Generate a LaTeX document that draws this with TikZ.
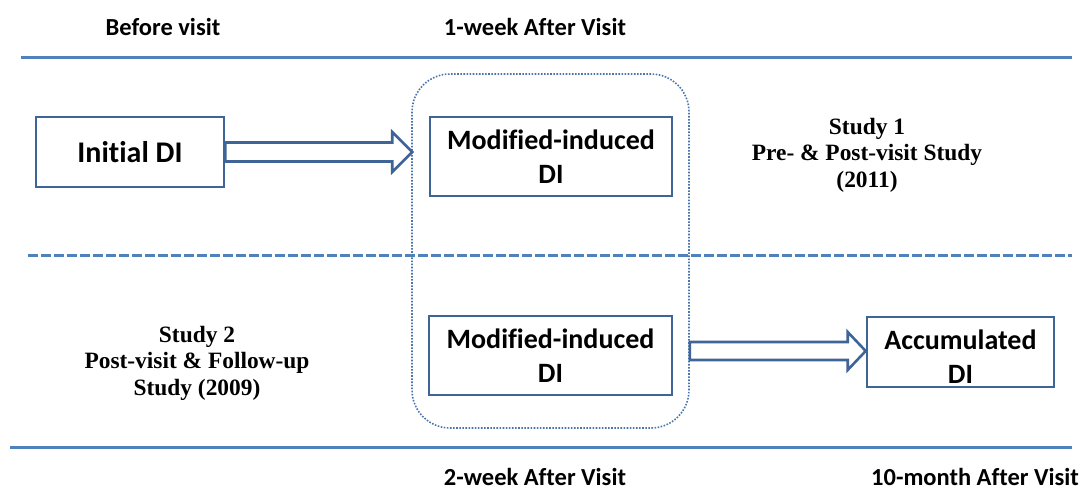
\documentclass[tikz,border=0pt]{standalone}
\usepackage{fontspec}
\setmainfont{Liberation Serif}
\newfontfamily\calfont[Ligatures=NoCommon]{Carlito}
\usetikzlibrary{calc}
\definecolor{lineblue}{RGB}{79,129,189}
\definecolor{boxblue}{RGB}{62,100,152}
\definecolor{dotblue}{RGB}{74,116,172}
\tikzset{
  hline/.style={draw=lineblue,line width=3pt},
  dline/.style={draw=lineblue,line width=3pt,dash pattern=on 10pt off 3pt},
  dibox/.style={draw=boxblue,line width=2.6pt,fill=white,align=center,inner sep=0pt,
    font=\calfont\bfseries\fontsize{28}{34}\selectfont},
  grpbox/.style={draw=dotblue,line width=1.6pt,dash pattern=on 1.6pt off 1.5pt,rounded corners=38pt,inner sep=0pt},
  blockarrow/.style={draw=boxblue,line width=2.6pt,fill=white,line join=miter},
  toplabel/.style={font=\calfont\bfseries\fontsize{24.5}{29}\selectfont,inner sep=0pt},
  studytxt/.style={font=\bfseries\fontsize{23.4}{26.5}\selectfont,align=center,inner sep=0pt}
}
\begin{document}
\begin{tikzpicture}[x=1pt,y=-1pt]
\useasboundingbox (0,0) rectangle (1087,493);
% horizontal rules
\coordinate (t1) at (21,57); \coordinate (t2) at (1072,57);
\coordinate (m1) at (28,255); \coordinate (m2) at (1072,255);
\coordinate (b1) at (10,447); \coordinate (b2) at (1072,447);
\draw[hline] (t1) -- (t2);
\draw[hline] (b1) -- (b2);
% group box
\node[grpbox,minimum width=277pt,minimum height=354pt] (grp) at (550.5,251) {};
\draw[dline] (m1) -- (m2);
% labels
\node[toplabel] (lb1) at (163,27) {Before visit};
\node[toplabel] (lb2) at (535,27) {1-week After Visit};
\node[toplabel] (lb3) at (535,477) {2-week After Visit};
\node[toplabel] (lb4) at (975,477) {10-month After Visit};
% boxes
\node[dibox,minimum width=188pt,minimum height=70pt,font=\calfont\bfseries\fontsize{30}{36}\selectfont] (init) at (130,152) {Initial DI};
\node[dibox,minimum width=242pt,minimum height=79pt] (mod1) at (551,156.5) {Modified-induced\\DI};
\node[dibox,minimum width=243pt,minimum height=79pt] (mod2) at (550.5,355.5) {Modified-induced\\DI};
\node[dibox,minimum width=187pt,minimum height=70pt] (acc) at (960.5,352)
  {\raisebox{-8pt}[\height][\depth]{\begin{tabular}{@{}c@{}}Accumulated\\DI\end{tabular}}};
% study texts
\node[studytxt] (s1) at (867,155) {Study 1\\Pre- \& Post-visit Study\\(2011)};
\node[studytxt] (s2) at (197,363) {Study 2\\Post-visit \& Follow-up\\Study (2009)};
% block arrows
\draw[blockarrow] let \p1=(init.east), \p2=($(grp.west |- init.east)+(1,0)$) in
  (\x1,\y1+9.5pt) -- (\x2-20pt,\y1+9.5pt) -- (\x2-20pt,\y1+20pt) -- (\x2,\y1)
  -- (\x2-20pt,\y1-20pt) -- (\x2-20pt,\y1-9.5pt) -- (\x1,\y1-9.5pt) -- cycle;
\draw[blockarrow] let \p1=($(grp.east |- acc.west)+(0,-1)$), \p2=(acc.west) in
  (\x1,\y1+9pt) -- (\x2-18pt,\y1+9pt) -- (\x2-18pt,\y1+19pt) -- (\x2,\y1)
  -- (\x2-18pt,\y1-19pt) -- (\x2-18pt,\y1-9pt) -- (\x1,\y1-9pt) -- cycle;
\end{tikzpicture}
\end{document}
